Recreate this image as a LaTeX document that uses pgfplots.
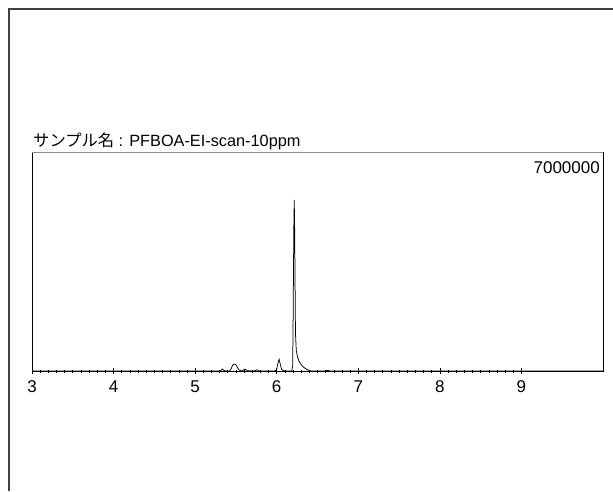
\documentclass[border=0pt]{standalone}
\usepackage{fontspec}
\setmainfont{Liberation Sans}
\newfontfamily\cjk{Noto Sans CJK JP}
\usepackage{pgfplots}
\pgfplotsset{compat=1.18}

\begin{document}
\begin{tikzpicture}[x=1pt,y=1pt]
  % page size and the clipped outer frame
  \useasboundingbox (0,0) rectangle (613,491);
  \draw[line width=1.4pt, black!75] (9,0) -- (9,482) -- (614,482);

  \begin{axis}[
      at={(32pt,120pt)},
      anchor=south west,
      scale only axis,
      width=571pt,
      height=219pt,
      xmin=3, xmax=10,
      ymin=0, ymax=7000000,
      axis line style={black, line width=0.8pt},
      xtick={3,4,5,6,7,8,9},
      minor x tick num=9,
      ytick=\empty,
      tick pos=bottom,
      tick align=center,
      major tick length=6pt,
      minor tick length=3pt,
      tick style={black, line width=0.6pt},
      xticklabel style={font=\fontsize{17}{20}\selectfont, yshift=-3pt},
      /pgf/number format/assume math mode=true,
      clip=false,
    ]

    % chromatogram trace
    \addplot[black, line width=0.75pt] coordinates {
      (3.00,0) (4.00,0) (5.00,0) (5.28,0)
      (5.31,0.01e6) (5.335,0.06e6) (5.36,0.01e6) (5.38,0)
      (5.42,0) (5.44,0.06e6) (5.46,0.19e6) (5.48,0.22e6) (5.50,0.20e6)
      (5.52,0.10e6) (5.54,0.03e6) (5.56,0.01e6) (5.58,0.01e6)
      (5.61,0.06e6) (5.64,0.01e6) (5.70,0) (5.73,0.005e6)
      (5.76,0.04e6) (5.79,0) (5.97,0) (5.99,0.02e6) (6.00,0.06e6)
      (6.015,0.25e6) (6.03,0.37e6) (6.045,0.20e6) (6.06,0.05e6)
      (6.08,0.01e6) (6.12,0) (6.185,0) (6.195,0.15e6) (6.200,1.2e6)
      (6.205,3.0e6) (6.210,4.6e6) (6.215,5.47e6) (6.220,4.5e6)
      (6.225,2.8e6) (6.230,1.2e6) (6.240,0.65e6) (6.255,0.45e6)
      (6.27,0.33e6) (6.29,0.24e6) (6.31,0.17e6) (6.34,0.10e6)
      (6.37,0.05e6) (6.40,0.01e6) (6.43,0) (6.58,0) (6.62,0.02e6)
      (6.66,0) (7.00,0) (8.00,0) (9.00,0) (10.00,0)
    };

    % lighter top edge of the frame
    \draw[black!45, line width=0.8pt] (rel axis cs:0,1) -- (rel axis cs:1,1);

    % full-scale value and sample name
    \node[anchor=north east, inner sep=0pt, font=\fontsize{17}{20}\selectfont]
      at ([xshift=-3pt,yshift=-9pt]rel axis cs:1,1) {7000000};
    \node[anchor=base west, inner sep=0pt, font=\fontsize{16.3}{19}\selectfont]
      at ([xshift=1pt,yshift=6pt]rel axis cs:0,1) {{\cjk サンプル名} : PFBOA-EI-scan-10ppm};
  \end{axis}
\end{tikzpicture}
\end{document}
